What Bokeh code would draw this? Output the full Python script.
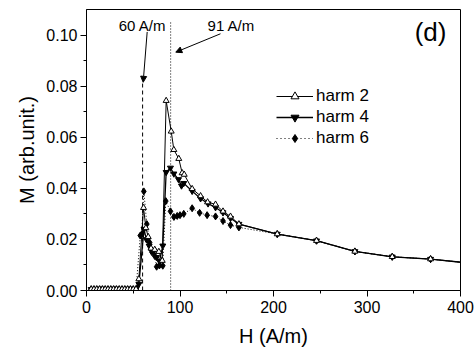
from bokeh.plotting import figure
from bokeh.models import (Range1d, FixedTicker, PrintfTickFormatter, Label, Arrow,
                          NormalHead, Legend, LegendItem, ColumnDataSource)
from bokeh.embed import file_html
from bokeh.resources import INLINE

FONT = "Liberation Sans"

base_x = [5, 8, 11, 14, 17, 20, 23, 26, 29, 32, 35, 38, 41, 44, 47, 50, 53]
base_y = [0.0005] * len(base_x)

h2_x = base_x + [56, 61, 63.5, 66, 69, 73, 77.4, 81, 85.2, 90.6, 93.4, 98.7, 102.3, 104.5,
                 113, 122, 129.5, 138, 146, 154, 163, 204, 246, 287, 327, 368, 410]
h2_y = base_y + [0.0045, 0.0324, 0.0245, 0.021, 0.0165, 0.016, 0.0152, 0.0117, 0.0743, 0.0623,
                 0.0551, 0.0516, 0.046, 0.0454, 0.0398, 0.037, 0.0346, 0.0337, 0.031, 0.029,
                 0.026, 0.0221, 0.0195, 0.0153, 0.0132, 0.0123, 0.0107]

h4_x = base_x + [56, 61.5, 64, 67, 69.5, 72, 75, 78, 81.6, 85.2, 89.8, 93.4, 98.4, 101.6, 104,
                 113, 122, 130, 138, 146, 154, 163, 204, 246, 287, 327, 368, 410]
h4_y = base_y + [0.0025, 0.024, 0.020, 0.0175, 0.0156, 0.0155, 0.013, 0.0115, 0.0175, 0.0463,
                 0.048, 0.0457, 0.0435, 0.041, 0.042, 0.0389, 0.036, 0.034, 0.0325, 0.0305,
                 0.0283, 0.026, 0.0221, 0.0195, 0.0153, 0.0132, 0.0123, 0.0107]

h6_x = base_x + [57.5, 59, 61.3, 64.5, 67.5, 70, 73, 75, 78, 81.6, 84.8, 89.8, 93.5, 97, 100,
                 104, 113, 121, 129, 138, 146, 154, 163, 204, 246, 287, 327, 368, 410]
h6_y = base_y + [0.0215, 0.022, 0.0388, 0.026, 0.0188, 0.015, 0.0135, 0.0093, 0.0098, 0.0097,
                 0.035, 0.031, 0.0288, 0.0292, 0.0295, 0.030, 0.0322, 0.0304, 0.0295, 0.029,
                 0.0272, 0.0256, 0.0247, 0.0221, 0.0195, 0.0153, 0.0132, 0.0123, 0.0107]

x_ticks = [0, 100, 200, 300, 400]
y_ticks = [0.00, 0.02, 0.04, 0.06, 0.08, 0.10]
legend_labels = ["harm 2", "harm 4", "harm 6"]

H_low, H_high = 60, 90
M_low_top, M_high_top = 0.081, 0.105

p = figure(width=475, height=349, output_backend="svg", toolbar_location=None,
           x_range=Range1d(0, 400), y_range=Range1d(0, 0.11))
p.min_border_left = 86
p.min_border_right = 15
p.min_border_top = 9
p.min_border_bottom = 57
p.background_fill_color = "white"
p.border_fill_color = "white"
p.outline_line_color = "black"
p.outline_line_width = 1
p.grid.visible = False

p.xaxis.ticker = FixedTicker(ticks=x_ticks, minor_ticks=[50, 150, 250, 350])
p.yaxis.ticker = FixedTicker(ticks=y_ticks, minor_ticks=[0.01, 0.03, 0.05, 0.07, 0.09])
p.yaxis.formatter = PrintfTickFormatter(format="%.2f")
for ax in (p.xaxis, p.yaxis):
    ax.major_tick_out = 6
    ax.major_tick_in = 0
    ax.minor_tick_out = 3
    ax.minor_tick_in = 0
    ax.axis_line_color = "black"
    ax.major_tick_line_color = "black"
    ax.minor_tick_line_color = "black"
    ax.major_label_text_font = FONT
    ax.major_label_text_font_size = "16px"
    ax.major_label_text_color = "black"
    ax.axis_label_text_font = FONT
    ax.axis_label_text_font_size = "20px"
    ax.axis_label_text_font_style = "normal"
    ax.axis_label_text_color = "black"
p.xaxis.axis_label = "H (A/m)"
p.yaxis.axis_label = "M (arb.unit.)"
p.xaxis.major_label_standoff = 4
p.yaxis.major_label_standoff = 3
p.xaxis.axis_label_standoff = 9
p.yaxis.axis_label_standoff = 5

# vertical marker lines
p.line([H_low, H_low], [0, M_low_top], line_color="black", line_dash="4 3", line_width=1)
p.line([H_high, H_high], [0, M_high_top], line_color="black", line_dash="1 2", line_width=1)

# series
l6 = p.line(h6_x, h6_y, line_color="black", line_dash="1 2", line_width=1)
s6 = p.scatter(h6_x, h6_y, marker="diamond", size=7, fill_color="black", line_color="black")
l4 = p.line(h4_x, h4_y, line_color="black", line_width=1.3)
s4 = p.scatter(h4_x, h4_y, marker="inverted_triangle", size=6, fill_color="black", line_color="black")
l2 = p.line(h2_x, h2_y, line_color="black", line_width=1)
s2 = p.scatter(h2_x, h2_y, marker="triangle", size=6, fill_color="white", line_color="black")

# small legend-only markers (data outside the visible range)
off_x, off_y = [-1000], [-1]
e2 = p.scatter(off_x, off_y, marker="triangle", size=5, fill_color="white", line_color="black")
e4 = p.scatter(off_x, off_y, marker="inverted_triangle", size=5, fill_color="black", line_color="black")
e6 = p.scatter(off_x, off_y, marker="diamond", size=6, fill_color="black", line_color="black")
le2 = p.line(off_x * 2, off_y * 2, line_color="black", line_width=1)
le4 = p.line(off_x * 2, off_y * 2, line_color="black", line_width=1.3)
le6 = p.line(off_x * 2, off_y * 2, line_color="black", line_width=1, line_dash="1 3")

legend = Legend(items=[LegendItem(label=legend_labels[0], renderers=[le2, e2]),
                       LegendItem(label=legend_labels[1], renderers=[le4, e4]),
                       LegendItem(label=legend_labels[2], renderers=[le6, e6])],
                location=(190, 142))
legend.glyph_width = 37
legend.glyph_height = 20
legend.label_height = 20
legend.spacing = 1
legend.padding = 0
legend.margin = 0
legend.label_standoff = 3
legend.border_line_color = None
legend.background_fill_alpha = 0
legend.label_text_font = FONT
legend.label_text_font_size = "17px"
legend.label_text_color = "black"
p.add_layout(legend, "center")

# annotations
p.add_layout(Label(x=34.5, y=0.1038, text="60 A/m", text_font=FONT, text_font_size="15px",
                   text_baseline="middle", text_align="left", text_color="black"))
p.add_layout(Label(x=129.5, y=0.1038, text="91 A/m", text_font=FONT, text_font_size="15px",
                   text_baseline="middle", text_align="left", text_color="black"))
p.add_layout(Label(x=368, y=0.101, text="(d)", text_font=FONT, text_font_size="26px",
                   text_baseline="middle", text_align="center", text_color="black"))
p.add_layout(Arrow(x_start=64.9, y_start=0.1012, x_end=60.6, y_end=0.0815,
                   line_color="black", line_width=1,
                   end=NormalHead(size=6, fill_color="black", line_color="black")))
p.add_layout(Arrow(x_start=143.3, y_start=0.1005, x_end=95.5, y_end=0.0933,
                   line_color="black", line_width=1,
                   end=NormalHead(size=6, fill_color="black", line_color="black")))

open("out.html", "w").write(file_html(p, INLINE))
